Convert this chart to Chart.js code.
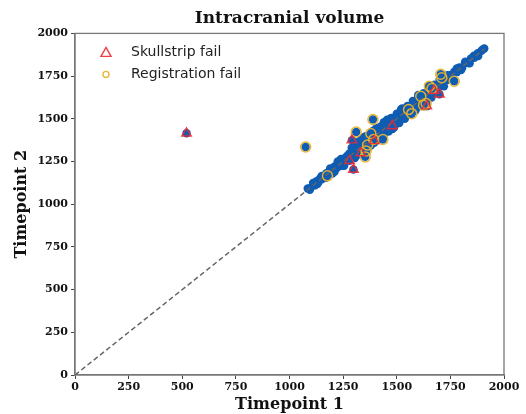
<!DOCTYPE html>
<html>
<head>
<meta charset="utf-8">
<script src="https://cdn.jsdelivr.net/npm/chart.js@4.4.0/dist/chart.umd.min.js"></script>
<style>
  html, body { margin: 0; padding: 0; background: #fff; }
  #wrap { width: 526px; height: 414px; }
</style>
</head>
<body>
<div id="wrap"><canvas id="myChart" width="526" height="414"></canvas></div>
<script>
// all subjects, timepoint 1 vs timepoint 2
let allT1 = [1085, 1098, 1110, 1118, 1126, 1135, 1142, 1150, 1158, 1165, 1172, 1180, 1186, 1193, 1200, 1206,
    1212, 1218, 1224, 1230, 1236, 1241, 1247, 1252, 1258, 1263, 1268, 1273, 1278, 1283, 1288, 1293, 1298, 1303,
    1308, 1312, 1317, 1322, 1326, 1331, 1336, 1340, 1345, 1350, 1354, 1359, 1364, 1368, 1373, 1378, 1382, 1387,
    1392, 1396, 1401, 1406, 1410, 1415, 1420, 1425, 1430, 1435, 1440, 1445, 1450, 1455, 1460, 1466, 1471, 1477,
    1482, 1488, 1494, 1500, 1506, 1512, 1518, 1524, 1530, 1537, 1543, 1550, 1557, 1564, 1571, 1578, 1585, 1592,
    1600, 1607, 1615, 1623, 1631, 1640, 1648, 1657, 1666, 1675, 1684, 1694, 1704, 1714, 1724, 1735, 1746, 1757,
    1768, 1780, 1792, 1805, 1818, 1832, 1846, 1862, 1878, 1895, 1908,
    1440, 1455, 1470, 1300, 1320, 1350, 1390, 1520, 1600, 1650, 1620, 1560, 1700, 1380, 1250, 1200, 1480,
    1290, 1305, 1320, 1335, 1345, 1360, 1370, 1385, 1395, 1405, 1415, 1425, 1438, 1450, 1462, 1475, 1488, 1500,
    1512, 1525, 1538, 1550, 1562, 1575, 1588, 1600, 1612, 1625, 1638, 1650, 1662, 1676, 1690, 1705, 1720, 1735,
    1240, 1255, 1225, 1210, 1190, 1170, 1150, 1130, 1110, 1095, 1760, 1780, 1800, 1820, 1840, 1860, 1880, 1900];
let allT2 = [1092, 1095, 1118, 1110, 1134, 1128, 1150, 1146, 1163, 1158, 1181, 1176, 1193, 1188, 1210, 1198,
    1222, 1209, 1235, 1221, 1248, 1232, 1258, 1240, 1270, 1255, 1282, 1262, 1295, 1270, 1305, 1280, 1318, 1292,
    1325, 1300, 1338, 1310, 1345, 1322, 1352, 1330, 1362, 1338, 1370, 1348, 1378, 1358, 1388, 1366, 1398, 1375,
    1405, 1386, 1414, 1395, 1424, 1404, 1432, 1414, 1442, 1422, 1450, 1433, 1460, 1444, 1470, 1455, 1481, 1466,
    1492, 1478, 1503, 1490, 1515, 1502, 1528, 1513, 1540, 1526, 1552, 1540, 1566, 1555, 1580, 1568, 1594, 1582,
    1610, 1598, 1624, 1615, 1640, 1630, 1658, 1648, 1676, 1666, 1694, 1686, 1712, 1706, 1734, 1727, 1755, 1750,
    1776, 1773, 1800, 1798, 1826, 1826, 1853, 1857, 1884, 1898, 1912,
    1480, 1495, 1500, 1345, 1365, 1395, 1430, 1555, 1640, 1690, 1600, 1530, 1730, 1345, 1225, 1180, 1440,
    1330, 1270, 1290, 1380, 1310, 1400, 1335, 1420, 1360, 1445, 1380, 1455, 1400, 1485, 1425, 1505, 1450, 1530,
    1475, 1560, 1500, 1575, 1525, 1605, 1550, 1625, 1575, 1650, 1600, 1675, 1625, 1700, 1655, 1725, 1690, 1755,
    1265, 1225, 1250, 1190, 1210, 1155, 1165, 1118, 1125, 1085, 1740, 1795, 1785, 1835, 1825, 1870, 1868, 1905];

// skullstrip failures
let skullT1 = [520, 1291, 1280, 1333, 1298, 1395, 1479, 1640, 1674, 1699];
let skullT2 = [1415, 1375, 1254, 1300, 1203, 1371, 1458, 1574, 1665, 1644];

// registration failures
let regT1 = [1075, 1177, 1311, 1389, 1379, 1392, 1364, 1435, 1357, 1353, 1555, 1570, 1625, 1637, 1612, 1652, 1664, 1705, 1710, 1768];
let regT2 = [1335, 1166, 1423, 1496, 1414, 1379, 1346, 1379, 1312, 1277, 1554, 1530, 1580, 1589, 1632, 1691, 1677, 1761, 1740, 1720];

// identity line
let lineX = [0, 1910];
let lineY = [0, 1910];

let tickVals = [0, 250, 500, 750, 1000, 1250, 1500, 1750, 2000];
let legendNames = ["Skullstrip fail", "Registration fail"];

let red = "rgba(240, 40, 50, 0.9)";
let gold = "rgba(232, 178, 45, 0.95)";
let blue = "#0f5cb3";

function toPoints(xs, ys) {
    return xs.map((x, i) => ({ x: x, y: ys[i] }));
}

// blue points include the failed ones too
let blueX = allT1.concat(skullT1, regT1);
let blueY = allT2.concat(skullT2, regT2);

let serif = "'DejaVu Serif', serif";

let boxPlugin = {
    id: "boxPlugin",
    afterDraw(chart) {
        let a = chart.chartArea;
        let ctx = chart.ctx;
        ctx.save();
        ctx.strokeStyle = "#777";
        ctx.lineWidth = 1.3;
        ctx.strokeRect(a.left, a.top, a.right - a.left, a.bottom - a.top);

        // legend, top left inside the axes
        let lx = a.left + 31;
        let ly = a.top + 19;
        ctx.lineWidth = 1.4;
        ctx.strokeStyle = red;
        ctx.beginPath();
        ctx.moveTo(lx, ly - 5);
        ctx.lineTo(lx + 5, ly + 4);
        ctx.lineTo(lx - 5, ly + 4);
        ctx.closePath();
        ctx.stroke();
        ctx.strokeStyle = gold;
        ctx.beginPath();
        ctx.arc(lx, ly + 22, 3, 0, Math.PI * 2);
        ctx.stroke();
        ctx.fillStyle = "#222";
        ctx.font = "14px 'DejaVu Sans', sans-serif";
        ctx.textBaseline = "middle";
        ctx.fillText(legendNames[0], lx + 25, ly);
        ctx.fillText(legendNames[1], lx + 25, ly + 22);
        ctx.restore();
    }
};

let myChart = document.querySelector("#myChart");
let mainChart = new Chart(myChart, {
    type: "scatter",
    data: {
        datasets: [{
            label: legendNames[0],
            data: toPoints(skullT1, skullT2),
            pointStyle: "triangle",
            pointRadius: 5.5,
            borderColor: red,
            backgroundColor: "rgba(0,0,0,0)",
            borderWidth: 1.4
        },
        {
            label: legendNames[1],
            data: toPoints(regT1, regT2),
            pointStyle: "circle",
            pointRadius: 5,
            borderColor: gold,
            backgroundColor: "rgba(0,0,0,0)",
            borderWidth: 1.5
        },
        {
            label: "identity",
            data: toPoints(lineX, lineY),
            showLine: true,
            pointRadius: 0,
            borderColor: "#666",
            borderWidth: 1.5,
            borderDash: [5, 3]
        },
        {
            label: "all",
            data: toPoints(blueX, blueY),
            pointRadius: 4.2,
            borderWidth: 0,
            borderColor: blue,
            backgroundColor: blue
        }]
    },
    options: {
        responsive: false,
        animation: false,
        layout: { padding: { left: 0, right: 22, top: 0, bottom: 0 } },
        plugins: {
            tooltip: { enabled: false },
            legend: { display: false },
            title: {
                display: true,
                fullSize: false,
                text: "Intracranial volume",
                color: "#111",
                font: { family: serif, size: 17, weight: "bold" },
                padding: { top: 8, bottom: 5 }
            }
        },
        scales: {
            x: {
                type: "linear",
                min: 0,
                max: 2000,
                afterFit: (s) => { s.height = 39; },
                afterBuildTicks: (s) => { s.ticks = tickVals.map(v => ({ value: v })); },
                grid: { drawOnChartArea: false, drawTicks: true, tickLength: 4, color: "#444" },
                border: { display: true, color: "#777", width: 1.3 },
                ticks: {
                    color: "#111", padding: 2, maxRotation: 0,
                    font: { family: serif, size: 11, weight: "bold" },
                    callback: (v) => String(v)
                },
                title: {
                    display: true,
                    text: "Timepoint 1",
                    color: "#111",
                    font: { family: serif, size: 16, weight: "bold" },
                    padding: { top: 0, bottom: 0 }
                }
            },
            y: {
                type: "linear",
                min: 0,
                max: 2000,
                afterFit: (s) => { s.width = 75; },
                afterBuildTicks: (s) => { s.ticks = tickVals.map(v => ({ value: v })); },
                grid: { drawOnChartArea: false, drawTicks: true, tickLength: 4, color: "#444" },
                border: { display: true, color: "#777", width: 1.3 },
                ticks: {
                    color: "#111", padding: 3,
                    font: { family: serif, size: 11, weight: "bold" },
                    callback: (v) => String(v)
                },
                title: {
                    display: true,
                    text: "Timepoint 2",
                    color: "#111",
                    font: { family: serif, size: 16, weight: "bold" },
                    padding: { top: 12, bottom: 0 }
                }
            }
        }
    },
    plugins: [boxPlugin]
});
</script>
</body>
</html>
